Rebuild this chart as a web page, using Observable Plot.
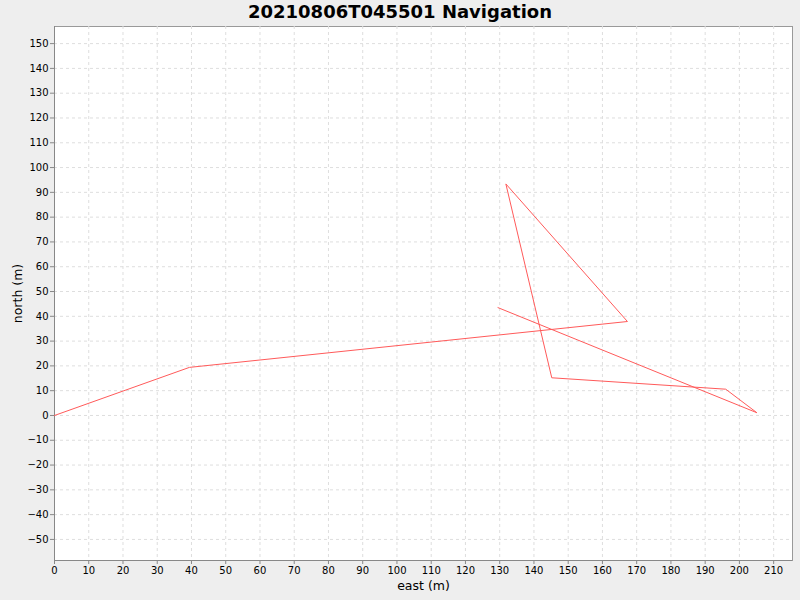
<!DOCTYPE html>
<html>
<head>
<meta charset="utf-8">
<script src="https://cdn.jsdelivr.net/npm/d3@7"></script>
<script src="https://cdn.jsdelivr.net/npm/@observablehq/plot@0.6"></script>
<style>
  html, body { margin: 0; padding: 0; background: #eeeeee; }
  #title { height: 26px; line-height: 23px; text-align: center; font-family: "DejaVu Sans", sans-serif; font-weight: bold; font-size: 18px; color: #000; }
  g[aria-label="x-axis label"] text, g[aria-label="y-axis label"] text { font-size: 12.5px; fill: #000; }
</style>
</head>
<body>
<div id="title">20210806T045501 Navigation</div>
<div id="chart"></div>
<script>
const east = [0, 39.4, 167.3, 131.8, 145.2, 196.0, 205.1, 129.5];
const north = [0, 19.4, 37.9, 93.4, 15.2, 10.6, 1.1, 43.5];
const xTicks = d3.range(0, 211, 10);
const yTicks = d3.range(-50, 151, 10);

const data = east.map((e, i) => ({east: e, north: north[i]}));

const chart = Plot.plot({
  width: 800,
  height: 574,
  marginTop: 0,
  marginLeft: 54,
  marginRight: 8,
  marginBottom: 40,
  style: {fontFamily: "DejaVu Sans, sans-serif", fontSize: "10px", background: "transparent", color: "#000", overflow: "visible"},
  x: {domain: [0, 215.5]},
  y: {domain: [-58.5, 156.9]},
  marks: [
    Plot.frame({fill: "white", stroke: "#999"}),
    Plot.gridX(xTicks, {stroke: "#dedede", strokeOpacity: 1, strokeDasharray: "3,3"}),
    Plot.gridY(yTicks, {stroke: "#dedede", strokeOpacity: 1, strokeDasharray: "3,3"}),
    Plot.axisX(xTicks, {tickSize: 4, tickPadding: 2, stroke: "#888", label: "east (m)", labelAnchor: "center", labelArrow: "none", labelOffset: 29}),
    Plot.axisY(yTicks, {tickSize: 4, tickPadding: 2, stroke: "#888", label: "north (m)", labelAnchor: "center", labelArrow: "none", labelOffset: 41}),
    Plot.ruleX([0], {stroke: "#888"}),
    Plot.ruleY([-58.5], {stroke: "#888"}),
    Plot.line(data, {x: "east", y: "north", stroke: "#ff5a5a", strokeWidth: 1})
  ]
});
document.getElementById("chart").appendChild(chart);
</script>
</body>
</html>
